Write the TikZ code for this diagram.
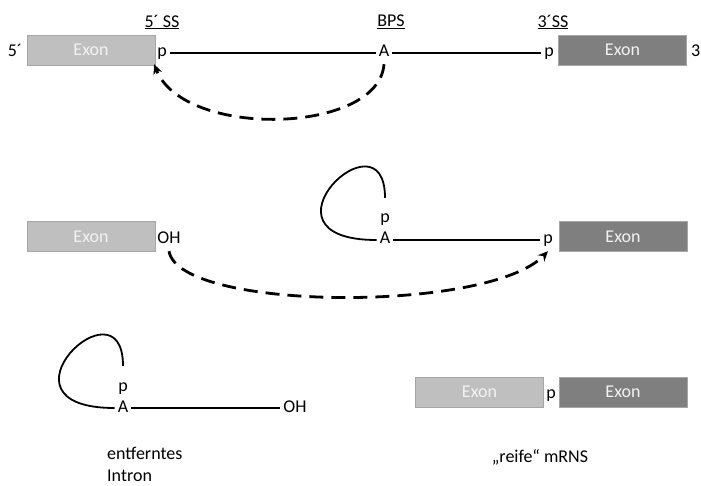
\documentclass[tikz,border=0pt]{standalone}
\usepackage{fontspec}
\setmainfont{Carlito}
\usepackage{tikz}
\usetikzlibrary{arrows.meta}

\definecolor{exonlight}{HTML}{BFBFBF}
\definecolor{exondark}{HTML}{7F7F7F}
\definecolor{exonedge}{HTML}{A6A6A6}

\begin{document}
\begin{tikzpicture}[x=1pt,y=-1pt]
        \useasboundingbox (0,0) rectangle (701,486);
        \begin{scope}[every node/.style={font=\fontsize{18}{22}\selectfont, inner sep=3pt}]
                % exons
                \begin{scope}[every node/.style={font=\fontsize{18}{22}\selectfont, minimum width=128pt, minimum height=30pt, draw=exonedge, line width=0.8pt, text=white!95!black}]
                        \node [fill=exonlight] (E1) at (91,50) {Exon};
                        \node [fill=exondark] (E2) at (622.5,50) {Exon};
                        \node [fill=exonlight] (E3) at (91,236.5) {Exon};
                        \node [fill=exondark] (E4) at (623,236.5) {Exon};
                        \node [fill=exonlight] (E5) at (479.5,392) {Exon};
                        \node [fill=exondark] (E6) at (623,392) {Exon};
                \end{scope}

                % letters
                \begin{scope}[every node/.style={font=\fontsize{18}{22}\selectfont, inner sep=3pt, text height=12pt, text depth=4pt}]
                        \node (f5) at (15,53) {5´};
                        \node [anchor=west] (f3) at (688,53) {3};
                        \node (p1) at (162,53) {p};
                        \node (A1) at (384,53) {A};
                        \node (q1) at (549,53) {p};
                        \node (OH2) at (169,240) {OH};
                        \node (p2) at (385,219) {p};
                        \node (A2) at (385,240) {A};
                        \node (q2) at (548,240) {p};
                        \node (p3) at (123,387) {p};
                        \node (A3) at (123,408) {A};
                        \node (OH3) at (295,408) {OH};
                        \node (q3) at (551,394) {p};
                \end{scope}

                \node (SS5) at (162,22) {\underline{5´ SS}};
                \node (BPS) at (391,22) {\underline{BPS}};
                \node (SS3) at (553,22) {\underline{3´SS}};

                \node [anchor=west, align=left, font=\fontsize{18}{22}\selectfont] (intron) at (104,464) {entferntes\\Intron};
                \node (mrna) at (540,457) {„reife“ mRNS};
        \end{scope}

        \begin{scope}[every path/.style={line width=1.8pt}]
                \path (p1) edge (A1);
                \path (A1) edge (q1);
                \path (A2) edge (q2);
                \path (A3) edge (OH3);
                \draw ([yshift=10pt]p2.north) .. controls +(0,-90) and +(-130,0) .. (A2.west);
                \draw ([yshift=10pt]p3.north) .. controls +(0,-90) and +(-130,0) .. (A3.west);
        \end{scope}

        \begin{scope}[every path/.style={line width=2.8pt, dash pattern=on 14pt off 8pt, ->, >={Stealth[length=10pt,width=9pt]}}]
                \draw (A1.south) .. controls +(-5,70) and +(30,75) .. (p1.south west);
                \draw (OH2.south) .. controls +(10,60) and +(-60,62) .. (q2.south);
        \end{scope}
\end{tikzpicture}
\end{document}
